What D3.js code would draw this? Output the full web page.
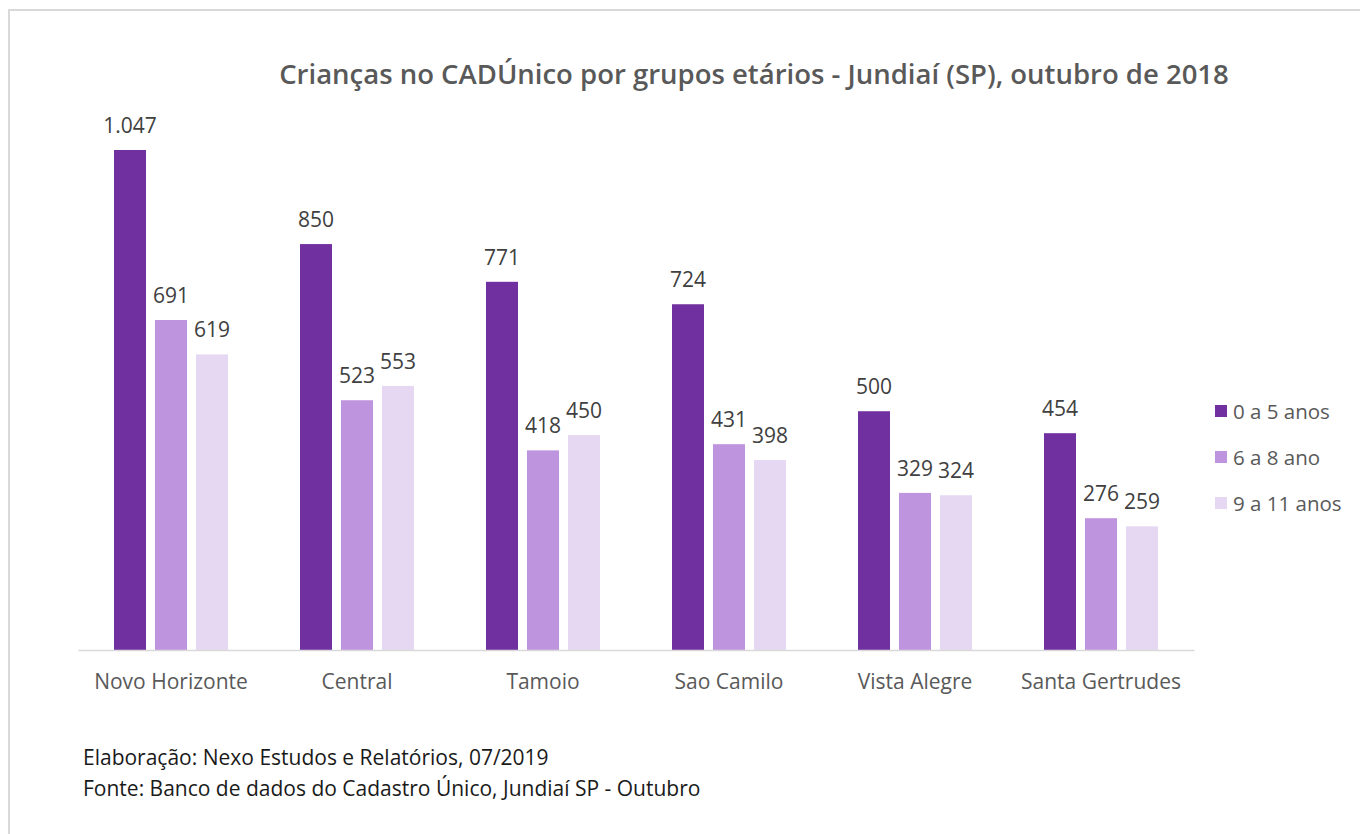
<!DOCTYPE html>
<html>
<head>
<meta charset="utf-8">
<script src="https://cdn.jsdelivr.net/npm/d3@7"></script>
<style>
  body { margin: 0; background: #fff; }
  text { font-family: "Open Sans", "Noto Sans", sans-serif; }
</style>
</head>
<body>
<div id="chart"></div>
<script>
// dados ------------------------------------------
var bairros = ["Novo Horizonte", "Central", "Tamoio", "Sao Camilo", "Vista Alegre", "Santa Gertrudes"];
var grupos = ["0 a 5 anos", "6 a 8 ano", "9 a 11 anos"];
var v0a5 = [1047, 850, 771, 724, 500, 454];
var v6a8 = [691, 523, 418, 431, 329, 276];
var v9a11 = [619, 553, 450, 398, 324, 259];
var cores = ["#7030A0", "#BF94DF", "#E6D8F2"];

var series = [v0a5, v6a8, v9a11];
var data = bairros.map(function (b, i) {
  return { bairro: b, valores: series.map(function (s, j) { return { grupo: grupos[j], v: s[i] }; }) };
});

var W = 1360, H = 834;
var svg = d3.select("#chart").append("svg").attr("width", W).attr("height", H);

// moldura
svg.append("rect")
  .attr("x", 9).attr("y", 10).attr("width", W + 20).attr("height", H + 20)
  .attr("fill", "#fff").attr("stroke", "#d9d9d9").attr("stroke-width", 2);

// titulo
svg.append("text")
  .attr("x", 754).attr("y", 84)
  .attr("text-anchor", "middle")
  .attr("font-size", "27.5px").attr("font-weight", "600").attr("fill", "#595959")
  .text("Crianças no CADÚnico por grupos etários - Jundiaí (SP), outubro de 2018");

// escalas
var x0 = d3.scaleBand().domain(bairros).range([78, 1194]).paddingInner(0).paddingOuter(0);
var x1 = d3.scaleBand().domain(grupos).range([36, 150]).paddingInner(0.22);
var y = d3.scaleLinear().domain([0, 1047]).range([650, 150]);

var g = svg.selectAll(".grp").data(data).enter().append("g")
  .attr("transform", function (d) { return "translate(" + x0(d.bairro) + ",0)"; });

g.selectAll("rect").data(function (d) { return d.valores; }).enter().append("rect")
  .attr("x", function (d) { return x1(d.grupo); })
  .attr("y", function (d) { return y(d.v); })
  .attr("width", x1.bandwidth())
  .attr("height", function (d) { return y(0) - y(d.v); })
  .attr("fill", function (d, i) { return cores[i]; });

g.selectAll(".lbl").data(function (d) { return d.valores; }).enter().append("text")
  .attr("x", function (d) { return x1(d.grupo) + x1.bandwidth() / 2; })
  .attr("y", function (d) { return y(d.v) - 17; })
  .attr("text-anchor", "middle")
  .attr("font-size", "21px").attr("fill", "#404040")
  .text(function (d) { return d3.format(",")(d.v).replace(",", "."); });

// eixo X
var ax = svg.append("g").attr("transform", "translate(0,650)")
  .call(d3.axisBottom(x0).tickSize(0).tickPadding(24));
ax.select(".domain").attr("stroke", "#d9d9d9").attr("stroke-width", 1.5);
ax.selectAll("text").attr("font-size", "21px").attr("fill", "#595959")
  .attr("font-family", "'Open Sans', sans-serif");

// legenda
var leg = svg.selectAll(".leg").data(grupos).enter().append("g")
  .attr("transform", function (d, i) { return "translate(1215," + (412 + i * 46) + ")"; });
leg.append("rect").attr("x", 0).attr("y", -7).attr("width", 12).attr("height", 12)
  .attr("fill", function (d, i) { return cores[i]; });
leg.append("text").attr("x", 18).attr("y", 7)
  .attr("font-size", "20.5px").attr("fill", "#595959")
  .text(function (d) { return d; });

// rodape
var notas = ["Elaboração: Nexo Estudos e Relatórios, 07/2019",
  "Fonte: Banco de dados do Cadastro Único, Jundiaí SP - Outubro"];
svg.selectAll(".nota").data(notas).enter().append("text")
  .attr("x", 83).attr("y", function (d, i) { return 765 + i * 31; })
  .attr("font-size", "21px").attr("fill", "#1a1a1a")
  .text(function (d) { return d; });
</script>
</body>
</html>
